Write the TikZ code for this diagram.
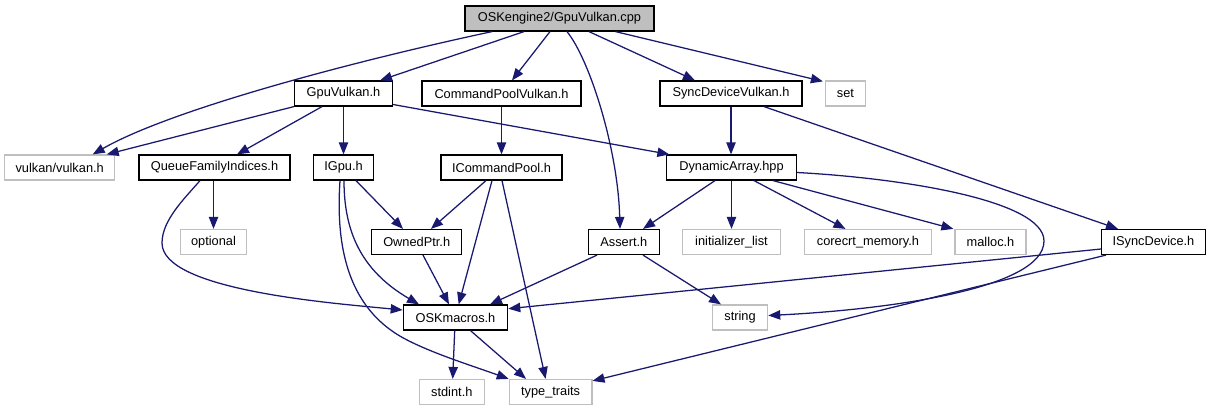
\documentclass[tikz,border=0pt]{standalone}
\usepackage{fontspec}
\setmainfont{Liberation Sans}
\usetikzlibrary{arrows.meta,calc}
\definecolor{edgec}{HTML}{191970}
\definecolor{extgray}{HTML}{BFBFBF}
\begin{document}
\begin{tikzpicture}[x=0.75pt,y=-0.75pt,
  every node/.style={font=\fontsize{9.6pt}{11pt}\selectfont},
  wd/.style={minimum width=#1*0.75pt},
  box/.style={draw=black, fill=white, line width=0.9pt, inner sep=0pt, minimum height=18.75pt},
  extbox/.style={draw=extgray, fill=white, line width=0.9pt, inner sep=0pt, minimum height=18.75pt},
  topbox/.style={box, fill=extgray},
  dep/.style={draw=edgec, line width=0.95pt, -{Triangle[length=9pt,width=7pt]}}]
\useasboundingbox (0,0) rectangle (1211,411);
% nodes
\node[topbox, wd=189] (cpp) at (559.5,18.5) {OSKengine2/GpuVulkan.cpp};
\node[box, wd=98] (gpuh) at (343.5,93.5) {GpuVulkan.h};
\node[box, wd=159] (cmdpv) at (501.5,93.5) {CommandPoolVulkan.h};
\node[box, wd=142] (syncdv) at (731,93.5) {SyncDeviceVulkan.h};
\node[extbox, wd=40] (set) at (845.5,93.5) {set};
\node[extbox, wd=110] (vulkan) at (59.7,167.5) {vulkan/vulkan.h};
\node[box, wd=151] (qfi) at (214.5,167.5) {QueueFamilyIndices.h};
\node[box, wd=60] (igpu) at (343.5,167.5) {IGpu.h};
\node[box, wd=121] (icmd) at (501.5,167.5) {ICommandPool.h};
\node[box, wd=130] (dyn) at (731.5,167.5) {DynamicArray.hpp};
\node[extbox, wd=66.4] (optional) at (213.5,242) {optional};
\node[box, wd=90] (owned) at (416.7,242) {OwnedPtr.h};
\node[box, wd=71] (assert) at (623.8,242) {Assert.h};
\node[extbox, wd=97.4] (initl) at (731.5,242) {initializer\_list};
\node[extbox, wd=126.7] (corecrt) at (868,242) {corecrt\_memory.h};
\node[extbox, wd=71] (malloc) at (990.5,242) {malloc.h};
\node[box, wd=103.6] (isync) at (1153.4,242) {ISyncDevice.h};
\node[box, wd=104.4] (osk) at (455.5,317.5) {OSKmacros.h};
\node[extbox, wd=55.4] (string) at (740,317.5) {string};
\node[extbox, wd=65.3] (stdint) at (451.8,392) {stdint.h};
\node[extbox, wd=82.6] (tt) at (550.6,392) {type\_traits};
% edges from cpp
\draw[dep] ($(cpp.south)+(-67.5,0)$) .. controls (350,62) and (170,110) .. ($(vulkan.north)+(33,0)$);
\draw[dep] ($(cpp.south)+(-35.5,0)$) -- ($(gpuh.north)+(36.5,0)$);
\draw[dep] ($(cpp.south)+(-9.5,0)$) -- ($(cmdpv.north)+(10.5,0)$);
\draw[dep] ($(cpp.south)+(7.5,0)$) .. controls (590,60) and (618,150) .. ($(assert.north)+(-3.8,0)$);
\draw[dep] ($(cpp.south)+(29.5,0)$) -- ($(syncdv.north)+(-36,0)$);
\draw[dep] ($(cpp.south)+(56,0)$) -- ($(set.north west)+(-2,1)$);
% GpuVulkan.h
\draw[dep] (gpuh.south west) -- ($(vulkan.north)+(47,0)$);
\draw[dep] ($(gpuh.south)+(-21.5,0)$) -- ($(qfi.north)+(22.5,0)$);
\draw[dep] (gpuh.south) -- (igpu.north);
\draw[dep] ($(gpuh.east)+(0,11)$) -- ($(dyn.north west)+(3.5,0)$);
% CommandPoolVulkan.h
\draw[dep] (cmdpv.south) -- (icmd.north);
% SyncDeviceVulkan.h
\draw[dep] (syncdv.south) -- ($(dyn.north)+(-0.5,0)$);
\draw[dep] ($(syncdv.south)+(33,0)$) -- ($(isync.north)+(-35.4,0)$);
% QueueFamilyIndices.h
\draw[dep] ($(qfi.south)+(-1,0)$) -- (optional.north);
\draw[dep] ($(qfi.south)+(-14.5,0)$) .. controls (185,198) and (162,220) .. (162,243) .. controls (162,290) and (330,303) .. ($(osk.west)+(0,-7.5)$);
% IGpu.h
\draw[dep] ($(igpu.south)+(12.5,0)$) -- ($(owned.north)+(-13.7,0)$);
\draw[dep] ($(igpu.south)+(0.5,0)$) .. controls (344,230) and (360,270) .. ($(osk.north)+(-36.5,0)$);
\draw[dep] ($(igpu.south)+(-3.5,0)$) .. controls (336,240) and (345,300) .. (395,333) .. controls (420,349.5) and (470,365) .. (tt.north west);
% ICommandPool.h
\draw[dep] ($(icmd.south)+(-15.5,0)$) -- ($(owned.north)+(14.3,0)$);
\draw[dep] ($(icmd.south)+(-9.5,0)$) -- ($(osk.north)+(3.2,0)$);
\draw[dep] ($(icmd.south)+(0.5,0)$) -- ($(tt.north)+(-5,0)$);
% OwnedPtr.h
\draw[dep] ($(owned.south)+(6.3,0)$) -- ($(osk.north)+(-6.5,0)$);
% Assert.h
\draw[dep] ($(assert.south)+(-26.8,0)$) -- ($(osk.north)+(34.5,0)$);
\draw[dep] ($(assert.south)+(19.2,0)$) -- ($(string.north)+(-19,0)$);
% DynamicArray.hpp
\draw[dep] ($(dyn.south)+(-16.5,0)$) -- ($(assert.north)+(19.2,0)$);
\draw[dep] (dyn.south) -- (initl.north);
\draw[dep] ($(dyn.south)+(22.5,0)$) -- ($(corecrt.north)+(-22.5,0)$);
\draw[dep] ($(dyn.south)+(41.5,0)$) -- ($(malloc.north west)+(-1,0)$);
\draw[dep] ($(dyn.east)+(0,5)$) .. controls (900,178) and (1044,200) .. (1044,241) .. controls (1044,290) and (880,310) .. ($(string.east)+(0,-2)$);
% ISyncDevice.h
\draw[dep] ($(isync.west)+(0,7)$) -- ($(osk.east)+(0,-8.8)$);
\draw[dep] ($(isync.south west)+(5,0)$) -- ($(tt.north east)+(0,2)$);
% OSKmacros.h
\draw[dep] ($(osk.south)+(-0.8,0)$) -- ($(stdint.north)+(0.9,0)$);
\draw[dep] ($(osk.south)+(15,0)$) -- ($(tt.north)+(-24.6,0)$);
\end{tikzpicture}
\end{document}
